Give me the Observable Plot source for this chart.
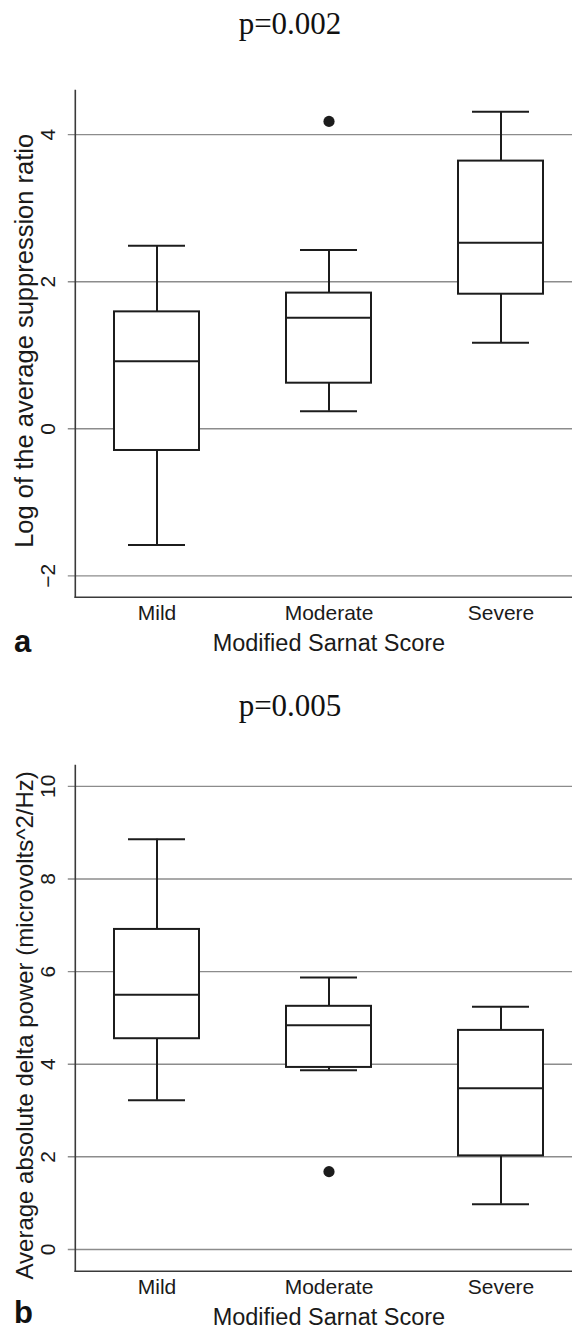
<!DOCTYPE html>
<html>
<head>
<meta charset="utf-8">
<script src="https://cdn.jsdelivr.net/npm/d3@7"></script>
<script src="https://cdn.jsdelivr.net/npm/@observablehq/plot@0.6"></script>
<style>
  html, body { margin: 0; padding: 0; background: #fff; }
  #wrap { position: relative; width: 572px; height: 1330px; background: #fff; overflow: hidden; }
  .ptitle { position: absolute; left: 0; width: 580px; text-align: center; font-family: "Liberation Serif", "Times New Roman", serif; font-size: 31px; line-height: 31px; color: #111; z-index: 2; }
  .plabel { position: absolute; left: 14px; font-family: "Liberation Sans", Arial, sans-serif; font-weight: bold; font-size: 31px; line-height: 31px; color: #111; z-index: 2; }
  #wrap svg { position: absolute; left: 0; z-index: 1; }
</style>
</head>
<body>
<div id="wrap">
  <div class="ptitle" id="t1" style="top:8px"></div>
  <div class="plabel" id="l1" style="top:626px"></div>
  <div class="ptitle" id="t2" style="top:690px"></div>
  <div class="plabel" id="l2" style="top:1297px"></div>
</div>
<script>
// ---- shared categories ----
const categories = ["Mild", "Moderate", "Severe"];
const xTitle = "Modified Sarnat Score";

// ---- panel a: Log of the average suppression ratio ----
const titleA = "p=0.002";
const labelA = "a";
const yTitleA = "Log of the average suppression ratio";
const yTicksA = [-2, 0, 2, 4];
const loA  = [-1.58, 0.24, 1.17];
const q1A  = [-0.295, 0.62, 1.83];
const medA = [0.92, 1.51, 2.53];
const q3A  = [1.59, 1.845, 3.64];
const hiA  = [2.49, 2.43, 4.31];
const outCatA = ["Moderate"];
const outValA = [4.18];
const yDomA = [-2.29, 4.60];

// ---- panel b: Average absolute delta power ----
const titleB = "p=0.005";
const labelB = "b";
const yTitleB = "Average absolute delta power (microvolts^2/Hz)";
const yTicksB = [0, 2, 4, 6, 8, 10];
const loB  = [3.22, 3.87, 0.975];
const q1B  = [4.55, 3.93, 2.02];
const medB = [5.50, 4.84, 3.48];
const q3B  = [6.91, 5.25, 4.73];
const hiB  = [8.86, 5.87, 5.24];
const outCatB = ["Moderate"];
const outValB = [1.68];
const yDomB = [-0.47, 10.45];

const fmt = d => d < 0 ? "\u2212" + Math.abs(d) : String(d);
const BOX = "#1c1c1c";
const GRID = "#8c8c8c";
const AXIS = "#3a3a3a";

function panel(o) {
  const rows = categories.map((c, i) => ({cat: c, lo: o.lo[i], q1: o.q1[i], med: o.med[i], q3: o.q3[i], hi: o.hi[i]}));
  const outs = o.outCat.map((c, i) => ({cat: c, v: o.outVal[i]}));
  return Plot.plot({
    width: 572,
    height: o.height,
    marginLeft: 74.8,
    marginRight: 0,
    marginTop: 30,
    marginBottom: o.marginBottom,
    style: {fontFamily: "'Liberation Sans', Arial, sans-serif", background: "white", color: "#1a1a1a"},
    x: {type: "band", domain: categories, range: [113.65, 542.35], paddingInner: 0.5076, paddingOuter: 0, align: 0.5, axis: null},
    y: {domain: o.yDom, axis: null},
    marks: [
      Plot.ruleY(o.ticks, {stroke: GRID, strokeWidth: 1.4, insetLeft: -7}),
      Plot.frame({anchor: "left", stroke: AXIS, strokeWidth: 1.6}),
      Plot.frame({anchor: "bottom", stroke: AXIS, strokeWidth: 1.6}),
      Plot.ruleX(rows, {x: "cat", y1: "lo", y2: "q1", stroke: BOX, strokeWidth: 2}),
      Plot.ruleX(rows, {x: "cat", y1: "q3", y2: "hi", stroke: BOX, strokeWidth: 2}),
      Plot.tickY(rows, {x: "cat", y: "lo", inset: 14, stroke: BOX, strokeWidth: 2}),
      Plot.tickY(rows, {x: "cat", y: "hi", inset: 14, stroke: BOX, strokeWidth: 2}),
      Plot.barY(rows, {x: "cat", y1: "q1", y2: "q3", fill: "white", stroke: BOX, strokeWidth: 2}),
      Plot.tickY(rows, {x: "cat", y: "med", stroke: BOX, strokeWidth: 2}),
      Plot.dot(outs, {x: "cat", y: "v", r: 5.6, fill: BOX, stroke: "none"}),
      Plot.text(o.ticks, {y: d => d, text: fmt, frameAnchor: "left", dx: -27, rotate: -90, textAnchor: "middle", lineAnchor: "middle", fontSize: 21, fill: "#1a1a1a"}),
      Plot.text(categories, {x: d => d, text: d => d, frameAnchor: "bottom", dy: 16.3, lineAnchor: "middle", textAnchor: "middle", fontSize: 21, fill: "#1a1a1a"}),
      Plot.text([o.yTitle], {text: d => d, frameAnchor: "left", dx: -50, dy: o.yTitleDy, rotate: -90, textAnchor: "middle", lineAnchor: "middle", fontSize: o.yTitleSize, fill: "#1a1a1a"}),
      Plot.text([xTitle], {text: d => d, frameAnchor: "bottom", dx: 5, dy: 46.3, lineAnchor: "middle", textAnchor: "middle", fontSize: 23.5, fill: "#1a1a1a"})
    ]
  });
}

const wrap = document.getElementById("wrap");
document.getElementById("t1").textContent = titleA;
document.getElementById("t2").textContent = titleB;
document.getElementById("l1").textContent = labelA;
document.getElementById("l2").textContent = labelB;

const svgA = panel({lo: loA, q1: q1A, med: medA, q3: q3A, hi: hiA, outCat: outCatA, outVal: outValA,
  yDom: yDomA, ticks: yTicksA, yTitle: yTitleA, height: 620, marginBottom: 83.3, yTitleDy: -3, yTitleSize: 25.5});
svgA.style.top = "60px";
wrap.appendChild(svgA);

const svgB = panel({lo: loB, q1: q1B, med: medB, q3: q3B, hi: hiB, outCat: outCatB, outVal: outValB,
  yDom: yDomB, ticks: yTicksB, yTitle: yTitleB, height: 595, marginBottom: 59.3, yTitleDy: 7, yTitleSize: 24});
svgB.style.top = "735px";
wrap.appendChild(svgB);
</script>
</body>
</html>
